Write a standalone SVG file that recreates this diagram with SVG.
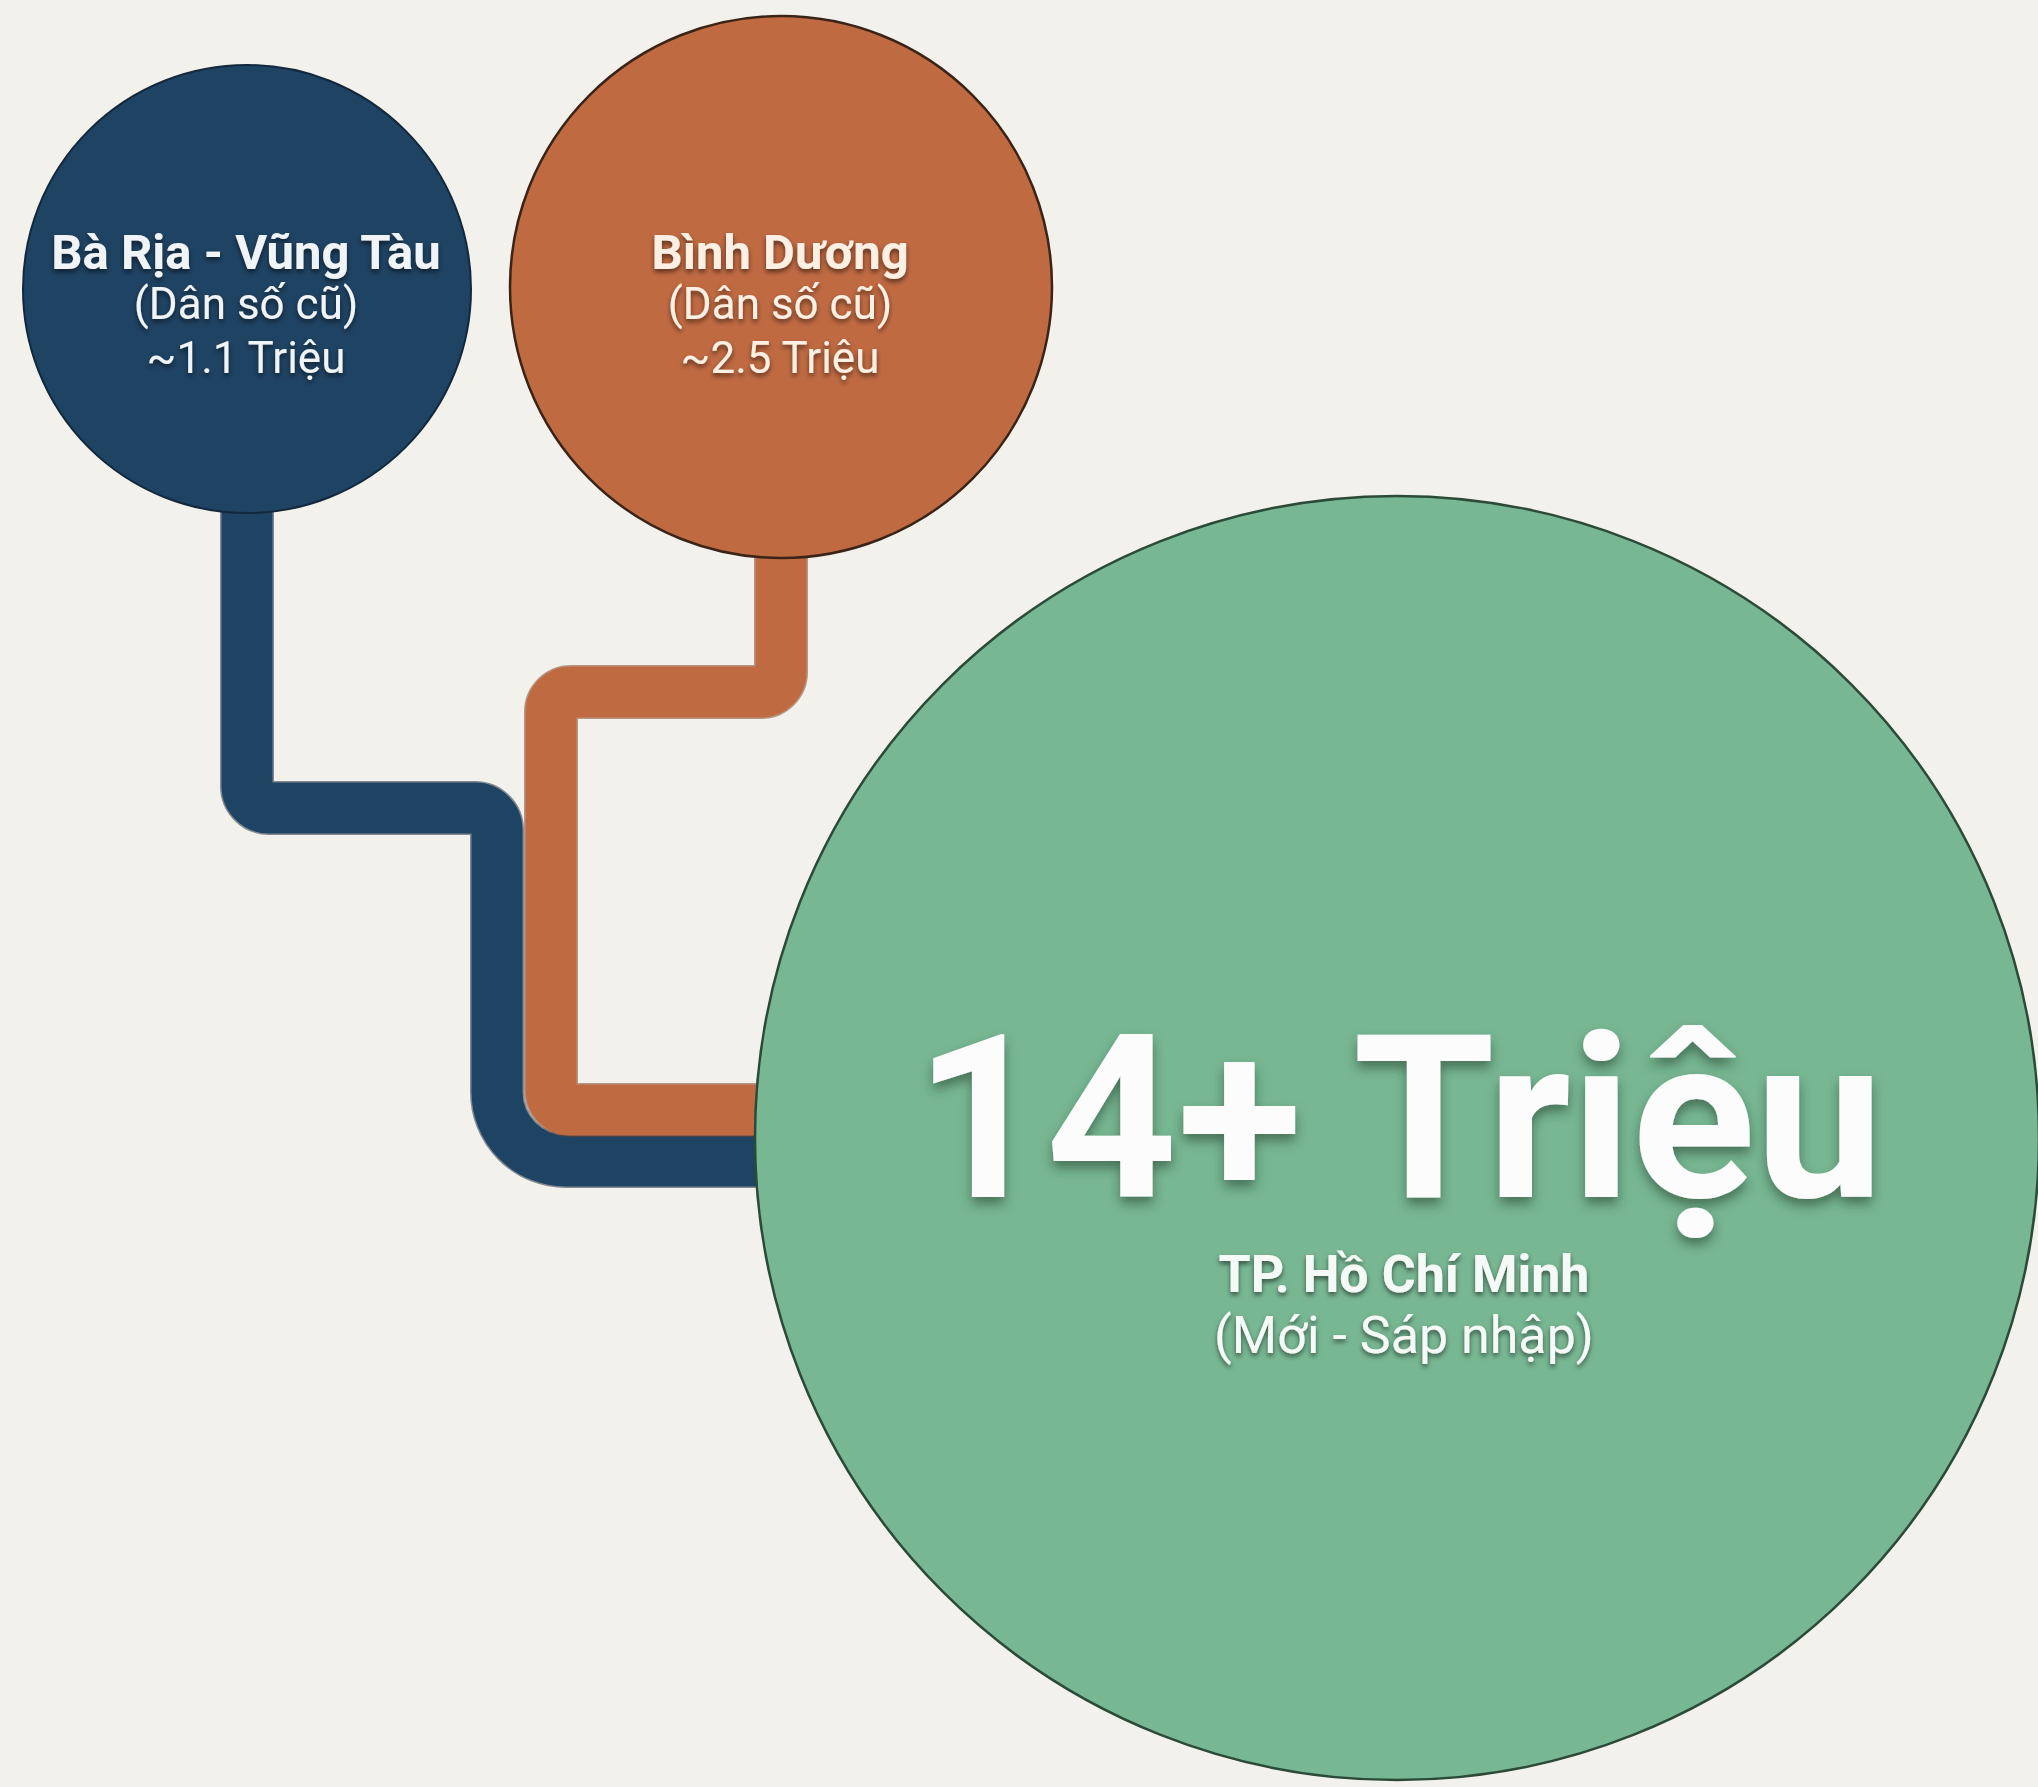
<svg xmlns="http://www.w3.org/2000/svg" width="2038" height="1787" viewBox="0 0 2038 1787">
<defs>
<style>
.bg{fill:#f3f1ec}
.conn{fill:none;stroke-width:51;stroke-linecap:butt;stroke-linejoin:round}
.edge{fill:none;stroke-width:54;stroke-linecap:butt;stroke-linejoin:round;opacity:.5}
.t{font-family:Roboto,"Liberation Sans",sans-serif;text-anchor:middle}
.b{font-weight:700}
.r{font-weight:400}
</style>
<filter id="sh" x="-20%" y="-50%" width="140%" height="200%">
<feDropShadow dx="0" dy="3" stdDeviation="2.5" flood-color="#000" flood-opacity="0.55"/>
</filter>
<filter id="shBig" x="-10%" y="-30%" width="120%" height="160%">
<feDropShadow dx="0" dy="7" stdDeviation="6" flood-color="#1d3b2b" flood-opacity="0.55"/>
</filter>
</defs>
<rect class="bg" x="0" y="0" width="2038" height="1787"/>
<g id="connectors">
<path class="edge" stroke="#0f2238" d="M247 480 L247 786 A22 22 0 0 0 269 808 L475 808 A22 22 0 0 1 497 830 L497 1092 A69 69 0 0 0 566 1161 L830 1161"/>
<path class="conn" stroke="#1f4363" d="M247 480 L247 786 A22 22 0 0 0 269 808 L475 808 A22 22 0 0 1 497 830 L497 1092 A69 69 0 0 0 566 1161 L830 1161"/>
<path class="edge" stroke="#7a3b1e" d="M781 530 L781 672 A20 20 0 0 1 761 692 L571 692 A20 20 0 0 0 551 712 L551 1090 A20 20 0 0 0 571 1110 L830 1110"/>
<path class="conn" stroke="#c06a42" d="M781 530 L781 672 A20 20 0 0 1 761 692 L571 692 A20 20 0 0 0 551 712 L551 1090 A20 20 0 0 0 571 1110 L830 1110"/>
</g>
<g id="node-baria">
<circle cx="247" cy="289" r="224" fill="#1f4363" stroke="#13283d" stroke-width="2"/>
<g filter="url(#sh)" fill="#f1f4f6">
<text class="t b" x="246" y="269" font-size="49">Bà Rịa - Vũng Tàu</text>
<text class="t r" x="246" y="319" font-size="44">(Dân số cũ)</text>
<text class="t r" x="246" y="373" font-size="44">~1.1 Triệu</text>
</g>
</g>
<g id="node-binhduong">
<circle cx="781" cy="287" r="271" fill="#c06a42" stroke="#3a2418" stroke-width="2.5"/>
<g filter="url(#sh)" fill="#fcf0e4">
<text class="t b" x="780" y="269" font-size="49">Bình Dương</text>
<text class="t r" x="780" y="319" font-size="44">(Dân số cũ)</text>
<text class="t r" x="780" y="373" font-size="44">~2.5 Triệu</text>
</g>
</g>
<g id="node-hcm">
<circle cx="1397" cy="1138" r="642" fill="#78b793" stroke="#2c4a38" stroke-width="2.5"/>
<text class="t b" x="1399" y="1197" font-size="229" fill="#fbfcfb" filter="url(#shBig)">14+ Triệu</text>
<g filter="url(#sh)" fill="#f6faf7">
<text class="t b" x="1404" y="1292" font-size="52">TP. Hồ Chí Minh</text>
<text class="t r" x="1404" y="1353" font-size="52">(Mới - Sáp nhập)</text>
</g>
</g>
</svg>
